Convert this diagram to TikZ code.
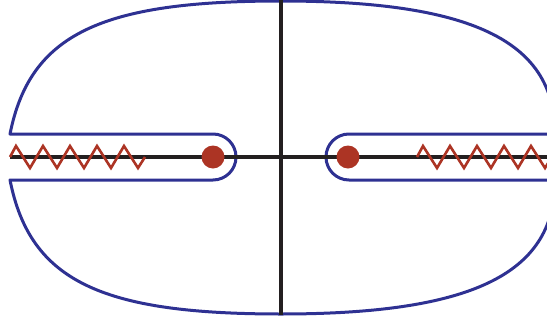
\documentclass[tikz,border=0pt]{standalone}
\usepackage{xcolor}
\usepackage{tikz}
\usetikzlibrary{positioning}

\definecolor{contourblue}{RGB}{46,49,146}
\definecolor{cutred}{RGB}{172,52,36}
\definecolor{axisblack}{RGB}{35,31,32}

\begin{document}
\begin{tikzpicture}[
  x=1pt, y=-1pt,
  contour/.style={draw=contourblue, line width=3pt, line join=round},
  axisline/.style={draw=axisblack, line width=4pt},
  cutline/.style={draw=cutred, line width=2.6pt},
  pole/.style={circle, fill=cutred, minimum size=23pt, inner sep=0pt}
]
\useasboundingbox (0,0) rectangle (547,327);
\clip (0,0) rectangle (547,327);

% contour around both cuts
\draw[contour] (10,134) -- (213,134) arc (-90:90:23) -- (10,180)
  .. controls (30,281) and (101,314) .. (281,314)
  .. controls (480,314) and (555,270) .. (555,180)
  -- (349,180) arc (90:270:23) -- (555,134)
  .. controls (555,45) and (480,1) .. (281,1)
  .. controls (101,1) and (30,34) .. cycle;

% axes
\coordinate (origin) at (281,157);
\draw[axisline] (origin |- 0,0) -- (origin |- 0,315);
\draw[axisline] (10,157) -- (547,157);

% branch cuts
\draw[cutline] (10,157) \foreach \i in {0,...,4} { -- ({16+27*\i},146) -- ({30+27*\i},168) } -- (145,157);
\draw[cutline] (417,157) \foreach \i in {0,...,4} { -- ({423+27*\i},146) -- ({437+27*\i},168) } -- (552,157);

% branch points
\node[pole] (pl) at (213,157) {};
\node[pole] (pr) at (348,157) {};
\end{tikzpicture}
\end{document}
